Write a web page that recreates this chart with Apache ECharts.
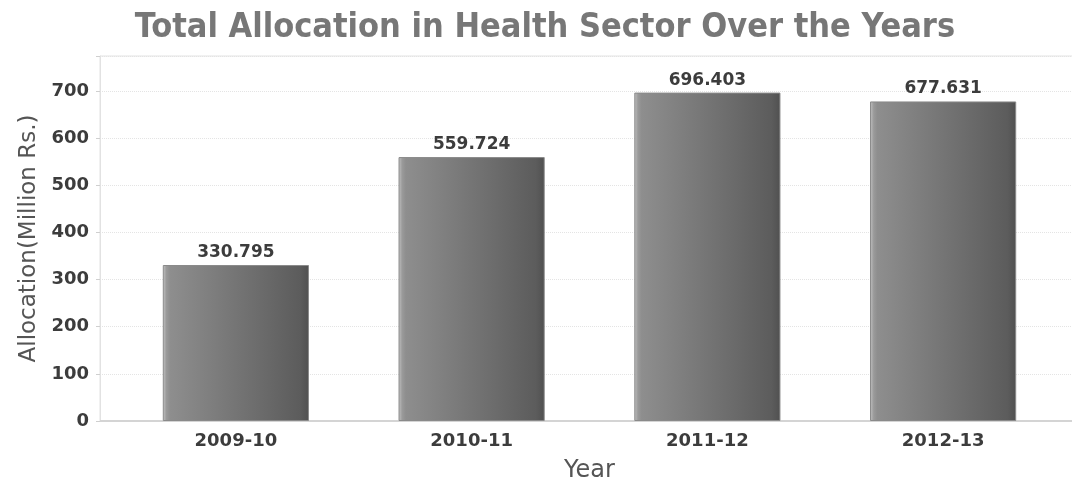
<!DOCTYPE html>
<html>
<head>
<meta charset="utf-8">
<script src="https://cdn.jsdelivr.net/npm/echarts@6/dist/echarts.min.js"></script>
<style>
  html, body { margin: 0; padding: 0; background: #fff; }
  #chart { width: 1072px; height: 485px; }
</style>
</head>
<body>
<div id="chart"></div>
<script>
// Health sector allocation by fiscal year (Million Rs.)
const years = ['2009-10', '2010-11', '2011-12', '2012-13'];
const allocation = [330.795, 559.724, 696.403, 677.631];
const yTicks = [0, 100, 200, 300, 400, 500, 600, 700];

const Y_MIN = 0, Y_MAX = 774, Y_STEP = 100;

const barFill = new echarts.graphic.LinearGradient(0, 0, 1, 0, [
  { offset: 0, color: '#c4c4c4' },
  { offset: 0.025, color: '#9a9a9a' },
  { offset: 0.05, color: '#8e8e8e' },
  { offset: 0.94, color: '#5c5c5c' },
  { offset: 1, color: '#505050' }
]);

const chart = echarts.init(document.getElementById('chart'), null, { renderer: 'canvas' });

chart.setOption({
  animation: false,
  backgroundColor: '#ffffff',
  title: {
    text: 'Total Allocation in Health Sector Over the Years',
    left: 540,
    textAlign: 'center',
    top: 6,
    textStyle: {
      fontFamily: "'DejaVu Sans Condensed', 'Liberation Sans', sans-serif",
      fontWeight: 'bold',
      fontSize: 34,
      color: '#777777'
    }
  },
  grid: [
    // frame with the value axis
    { left: 100, right: -2, top: 56, bottom: 64, show: true, borderColor: '#e2e2e2', borderWidth: 1, backgroundColor: 'transparent', outerBoundsMode: 'none' },
    // bars
    { left: 118, right: 11, top: 56, bottom: 64, outerBoundsMode: 'none' }
  ],
  xAxis: [
    { gridIndex: 0, type: 'value', show: false, min: 0, max: 1 },
    {
      gridIndex: 1,
      type: 'category',
      data: years,
      name: 'Year',
      nameLocation: 'middle',
      nameGap: 38,
      nameTextStyle: { fontFamily: 'DejaVu Sans', fontSize: 24, color: '#555' },
      axisLine: { show: false },
      axisTick: { show: false },
      axisLabel: {
        margin: 11,
        fontFamily: 'DejaVu Sans',
        fontWeight: 'bold',
        fontSize: 18,
        color: '#3c3c3c'
      }
    }
  ],
  yAxis: [
    {
      gridIndex: 0,
      type: 'value',
      min: Y_MIN,
      max: Y_MAX,
      interval: Y_STEP,
      name: 'Allocation(Million Rs.)',
      nameLocation: 'middle',
      nameGap: 56,
      nameTextStyle: { fontFamily: 'DejaVu Sans', fontSize: 23, color: '#555' },
      axisLine: { show: true, lineStyle: { color: '#e2e2e2' } },
      axisTick: { show: true, length: 4, lineStyle: { color: '#cfcfcf' } },
      axisLabel: {
        margin: 11,
        fontFamily: 'DejaVu Sans',
        fontWeight: 'bold',
        fontSize: 18,
        color: '#3c3c3c',
        formatter: v => (yTicks.indexOf(v) >= 0 ? String(v) : '')
      },
      splitLine: { show: true, lineStyle: { color: '#e4e4e4', type: 'dotted' } }
    },
    { gridIndex: 1, type: 'value', show: false, min: Y_MIN, max: Y_MAX, splitLine: { show: false } }
  ],
  series: [
    {
      type: 'bar',
      xAxisIndex: 1,
      yAxisIndex: 1,
      data: allocation,
      barWidth: '62%',
      itemStyle: { color: barFill, borderColor: '#8a8a8a', borderWidth: 1 },
      label: {
        show: true,
        position: 'top',
        distance: 4,
        fontFamily: 'DejaVu Sans',
        fontWeight: 'bold',
        fontSize: 17,
        color: '#3c3c3c',
        formatter: p => p.value.toFixed(3)
      }
    },
    {
      // baseline across the full frame
      type: 'line',
      xAxisIndex: 0,
      yAxisIndex: 0,
      data: [[0, 0], [1, 0]],
      symbol: 'none',
      silent: true,
      lineStyle: { color: '#d4d4d4', width: 2 },
      z: 1
    }
  ]
});
</script>
</body>
</html>
